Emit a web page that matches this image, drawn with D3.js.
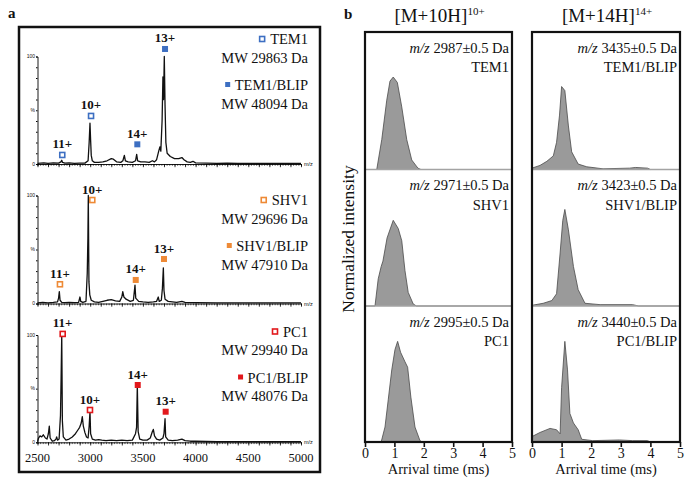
<!DOCTYPE html>
<html><head><meta charset="utf-8">
<script src="https://cdn.jsdelivr.net/npm/d3@7"></script>
<style>
body{margin:0;background:#fff}
svg{display:block}
</style>
</head><body>
<svg id="c" width="697" height="489"></svg>
<script>
// ---------------- DATA ----------------
const mzTicks = [2500, 3000, 3500, 4000, 4500, 5000];
const timeTicks = [0, 1, 2, 3, 4, 5];
const proteins = ["TEM1", "SHV1", "PC1"];
const complexes = ["TEM1/BLIP", "SHV1/BLIP", "PC1/BLIP"];
const freeMW = ["MW 29863 Da", "MW 29696 Da", "MW 29940 Da"];
const complexMW = ["MW 48094 Da", "MW 47910 Da", "MW 48076 Da"];
const colors = ["#3d6fc2", "#ee8a36", "#e2181c"];

// mass spectra: [m/z, relative intensity %]
const specTEM1 = [[2500,0.5],[2560,1],[2600,0.5],[2650,1],[2700,0.8],[2722,2],[2730,3.5],[2738,1.5],[2760,0.8],[2800,1],[2850,0.5],[2900,0.8],[2950,0.8],[2980,3],[2990,20],[2998,38],[3004,22],[3010,8],[3020,3],[3040,1.5],[3080,1.5],[3120,2],[3160,3],[3200,5],[3220,4.5],[3250,2],[3290,1.5],[3310,3],[3324,8],[3334,3],[3360,2],[3400,1.5],[3430,3],[3441,9],[3450,3],[3480,2],[3520,2],[3560,1.5],[3590,3],[3610,2],[3630,4],[3650,12],[3662,16],[3670,12],[3682,40],[3690,81],[3696,60],[3703,100],[3710,55],[3718,20],[3730,10],[3760,7],[3800,5],[3840,5],[3870,6],[3890,4],[3920,2],[3950,1.5],[3975,2.5],[4000,1],[4100,0.8],[4200,0.5],[4300,0.8],[4400,0.5],[4500,0.5],[4600,0.5],[4800,0.5],[5000,0.5]];
const specSHV1 = [[2500,0.5],[2550,1],[2600,0.5],[2650,1],[2690,1.5],[2700,5],[2707,11],[2714,3],[2730,1],[2760,0.8],[2800,1],[2850,0.8],[2890,1],[2903,6],[2910,2],[2930,1],[2960,2],[2972,28],[2978,60],[2982,100],[2988,20],[2996,8],[3010,3],[3040,1.5],[3080,1],[3120,2],[3160,3],[3200,3.5],[3240,2.5],[3280,2],[3300,6],[3309,11],[3320,6],[3340,4],[3380,2],[3410,3],[3425,17],[3432,5],[3460,2],[3500,1.5],[3550,1],[3600,1.5],[3630,2],[3646,6],[3655,2],[3675,3],[3685,14],[3694,33],[3700,12],[3710,4],[3740,2],[3780,1.5],[3820,1],[3870,2],[3900,1],[4000,0.8],[4200,0.5],[4500,0.5],[5000,0.5]];
const specPC1 = [[2500,0.5],[2510,4],[2524,6],[2540,5],[2555,7],[2575,4],[2590,3],[2603,8],[2612,15],[2620,4],[2640,1],[2660,1.5],[2675,3],[2682,5],[2690,2],[2705,3],[2718,25],[2724,60],[2730,100],[2736,20],[2745,5],[2770,2],[2800,3],[2830,5],[2860,8],[2880,11],[2900,14],[2915,18],[2925,24],[2935,15],[2950,9],[2965,5],[2980,4],[2990,15],[2998,29],[3004,8],[3020,3],[3050,2],[3080,2.5],[3110,2],[3150,1.5],[3200,2],[3250,1.5],[3300,2],[3350,1.5],[3400,2],[3430,8],[3440,14],[3447,53],[3455,10],[3470,3],[3500,2],[3540,2],[3570,4],[3590,10],[3599,12],[3610,6],[3630,3],[3660,2],[3690,4],[3700,8],[3710,22],[3716,5],[3740,2],[3780,1.5],[3830,2],[3870,3],[3900,1.5],[3950,1],[4000,1],[4200,0.5],[4500,0.5],[5000,0.5]];

// charge state markers: label, m/z, marker height (%), filled = complex
const ionsTEM1 = [{label:"11+",mz:2735,y:8.4,filled:false},{label:"10+",mz:3008,y:44.7,filled:false},{label:"14+",mz:3447,y:18.3,filled:true},{label:"13+",mz:3710,y:107,filled:true}];
const ionsSHV1 = [{label:"11+",mz:2713,y:17.8,filled:false},{label:"10+",mz:3020,y:95.8,filled:false},{label:"14+",mz:3432,y:21.8,filled:true},{label:"13+",mz:3700,y:41.2,filled:true}];
const ionsPC1  = [{label:"11+",mz:2739,y:101,filled:false},{label:"10+",mz:2998,y:30.1,filled:false},{label:"14+",mz:3451,y:53.4,filled:true},{label:"13+",mz:3716,y:28.5,filled:true}];

// arrival time distributions: [time ms, normalized intensity]
const atdTEM1 = [[0,0],[0.4,0],[0.57,0.22],[0.74,0.51],[0.85,0.65],[0.96,0.68],[1.1,0.64],[1.25,0.46],[1.42,0.22],[1.59,0.07],[1.8,0.01],[1.9,0],[5,0]];
const atdSHV1 = [[0,0],[0.34,0],[0.45,0.2],[0.55,0.29],[0.61,0.33],[0.75,0.5],[0.96,0.63],[1.13,0.57],[1.25,0.48],[1.36,0.26],[1.47,0.1],[1.64,0.015],[1.75,0],[5,0]];
const atdPC1  = [[0,0],[0.55,0],[0.68,0.11],[0.79,0.31],[0.91,0.53],[1.02,0.68],[1.11,0.74],[1.21,0.66],[1.36,0.59],[1.45,0.55],[1.56,0.33],[1.7,0.11],[1.87,0.01],[1.95,0],[5,0]];
const atdTEM1BLIP = [[0,0.01],[0.27,0.03],[0.5,0.06],[0.72,0.1],[0.83,0.2],[0.93,0.4],[1.0,0.61],[1.11,0.58],[1.23,0.32],[1.34,0.13],[1.56,0.04],[1.85,0.02],[2.4,0.005],[3.3,0.01],[3.5,0.015],[3.9,0.01],[4.0,0],[5,0]];
const atdSHV1BLIP = [[0,0.005],[0.38,0.02],[0.67,0.04],[0.83,0.09],[0.95,0.39],[1.04,0.63],[1.11,0.71],[1.23,0.56],[1.4,0.29],[1.56,0.12],[1.79,0.02],[2.3,0.01],[3.4,0.01],[3.6,0],[5,0]];
const atdPC1BLIP  = [[0,0.04],[0.27,0.07],[0.61,0.1],[0.83,0.09],[0.95,0.06],[1.0,0.4],[1.11,0.74],[1.2,0.53],[1.28,0.21],[1.4,0.14],[1.56,0.09],[1.68,0.02],[2.05,0.01],[2.95,0.015],[3.4,0.01],[3.9,0.01],[4.0,0],[5,0]];
const atdFreeMz = ["2987", "2971", "2995"];
const atdComplexMz = ["3435", "3423", "3440"];
const columnTitles = [{base:"[M+10H]", sup:"10+"}, {base:"[M+14H]", sup:"14+"}];

// ---------------- DRAW ----------------
const svg = d3.select("#c");
const serif = '"Liberation Serif","Times New Roman",serif';
const sans = '"Liberation Sans",Arial,sans-serif';
function txt(sel, x, y, size, str, anchor, extra) {
  const t = sel.append("text").attr("x", x).attr("y", y).attr("font-size", size)
    .attr("font-family", serif).attr("fill", "#111").attr("text-anchor", anchor || "start");
  if (extra && extra.bold) t.attr("font-weight", "bold");
  if (extra && extra.family) t.attr("font-family", extra.family);
  if (str !== null) t.text(str);
  return t;
}

// Panel labels
txt(svg, 8, 18, 15, "a", "start", {bold:true});
txt(svg, 344, 19, 15, "b", "start", {bold:true});

// ===== Panel a =====
svg.append("rect").attr("x", 19).attr("y", 27).attr("width", 301).attr("height", 445)
  .attr("fill", "none").attr("stroke", "#111").attr("stroke-width", 2.5);

const xMz = d3.scaleLinear().domain([2500, 5000]).range([37.5, 301]);
const spectra = [specTEM1, specSHV1, specPC1];
const ions = [ionsTEM1, ionsSHV1, ionsPC1];
const rowsA = [{base:164, top:56.5}, {base:303.5, top:195.5}, {base:442.3, top:335}];
const legendY = [44, 205, 336.5];

rowsA.forEach((r, i) => {
  const y = d3.scaleLinear().domain([0, 100]).range([r.base, r.top]);
  const g = svg.append("g");
  // y axis
  const yAx = g.append("g").attr("transform", `translate(${xMz.range()[0]},0)`)
    .call(d3.axisLeft(y).tickValues(d3.range(0, 101, 10)).tickSize(1.5).tickFormat(""));
  yAx.select(".domain").attr("stroke-width", 0.9);
  txt(g, 35, y(100) + 1.5, 5, "100", "end", {family: sans});
  txt(g, 35, y(50) + 1.5, 5, "%", "end", {family: sans});
  txt(g, 35, y(0) + 1.5, 5, "0", "end", {family: sans});
  // x axis: minor + major ticks
  const xa1 = g.append("g").attr("transform", `translate(0,${r.base})`)
    .call(d3.axisBottom(xMz).tickValues(d3.range(2500, 5001, 25)).tickSize(1.8).tickFormat(""));
  xa1.select(".domain").attr("stroke-width", 0.9);
  xa1.selectAll(".tick line").attr("stroke-width", 0.6);
  const xa2 = g.append("g").attr("transform", `translate(0,${r.base})`)
    .call(d3.axisBottom(xMz).tickValues(d3.range(2500, 5001, 100)).tickSize(3.2).tickFormat(""));
  xa2.select(".domain").remove();
  xa2.selectAll(".tick line").attr("stroke-width", 0.8);
  txt(g, 304, r.base + 2, 5.5, "m/z", "start", {family: sans});
  if (i === 2) {
    mzTicks.forEach(d => txt(g, xMz(d), 462, 12.5, String(d), "middle"));
  }
  // spectrum
  g.append("path").datum(spectra[i])
    .attr("d", d3.line().x(d => xMz(d[0])).y(d => y(d[1])))
    .attr("fill", "none").attr("stroke", "#111").attr("stroke-width", 1.3).attr("stroke-linejoin", "round");
  // markers
  ions[i].forEach(o => {
    const cx = xMz(o.mz), cy = y(o.y);
    if (o.filled) {
      g.append("rect").attr("x", cx - 3).attr("y", cy - 3).attr("width", 6).attr("height", 6).attr("fill", colors[i]);
    } else {
      g.append("rect").attr("x", cx - 2.5).attr("y", cy - 2.5).attr("width", 5).attr("height", 5)
        .attr("fill", "#fff").attr("stroke", colors[i]).attr("stroke-width", 1.6);
    }
    txt(g, cx, cy - 6.5, 13, o.label, "middle", {bold:true});
  });
  // legend
  const lx = 308, ly = legendY[i];
  const t1 = txt(g, lx, ly, 14.5, proteins[i], "end");
  txt(g, lx, ly + 18.5, 14.5, freeMW[i], "end");
  const t3 = txt(g, lx, ly + 46, 14.5, complexes[i], "end");
  txt(g, lx, ly + 64.5, 14.5, complexMW[i], "end");
  const w1 = t1.node().getComputedTextLength();
  const w3 = t3.node().getComputedTextLength();
  g.append("rect").attr("x", lx - w1 - 10.5).attr("y", ly - 7.5).attr("width", 5).attr("height", 5)
    .attr("fill", "#fff").attr("stroke", colors[i]).attr("stroke-width", 1.6);
  g.append("rect").attr("x", lx - w3 - 9.5).attr("y", ly + 46 - 8).attr("width", 5).attr("height", 5).attr("fill", colors[i]);
});

// ===== Panel b =====
const cols = [{left:365, right:512}, {left:532, right:680}];
const rowsB = [{top:32, base:169.5}, {top:169.5, base:306}, {top:306, base:442}];
const atds = [[atdTEM1, atdSHV1, atdPC1], [atdTEM1BLIP, atdSHV1BLIP, atdPC1BLIP]];
const mzLabels = [atdFreeMz, atdComplexMz];
const names = [proteins, complexes];

cols.forEach((c, ci) => {
  const x = d3.scaleLinear().domain([0, 5]).range([c.left, c.right]);
  const g = svg.append("g");
  rowsB.forEach((r, ri) => {
    const y = d3.scaleLinear().domain([0, 1]).range([r.base, r.base - 136]);
    g.append("path").datum(atds[ci][ri])
      .attr("d", d3.area().x(d => x(d[0])).y0(r.base).y1(d => y(d[1])))
      .attr("fill", "#9a9a9a").attr("stroke", "none");
    g.append("path").datum(atds[ci][ri])
      .attr("d", d3.line().x(d => x(d[0])).y(d => y(d[1])))
      .attr("fill", "none").attr("stroke", "#4a4a4a").attr("stroke-width", 0.8);
    if (ri < 2) {
      g.append("line").attr("x1", c.left).attr("x2", c.right).attr("y1", r.base).attr("y2", r.base)
        .attr("stroke", "#a3a3a3").attr("stroke-width", 1.6);
    }
    const tx = c.right - 3;
    const t = txt(g, tx, r.top + 20.5, 14.5, null, "end");
    t.append("tspan").attr("font-style", "italic").text("m/z");
    t.append("tspan").text(" " + mzLabels[ci][ri] + "±0.5 Da");
    txt(g, tx, r.top + 40, 14.5, names[ci][ri], "end");
  });
  // frame
  g.append("rect").attr("x", c.left).attr("y", rowsB[0].top).attr("width", c.right - c.left).attr("height", rowsB[2].base - rowsB[0].top)
    .attr("fill", "none").attr("stroke", "#111").attr("stroke-width", 2.2);
  // axis
  const ax = g.append("g").attr("transform", `translate(0,${rowsB[2].base})`)
    .attr("font-size", 14).attr("font-family", serif)
    .call(d3.axisBottom(x).tickValues(timeTicks).tickSize(5).tickPadding(1.5).tickFormat(d3.format("d")));
  ax.attr("font-size", 14).attr("font-family", serif);
  ax.select(".domain").remove();
  ax.selectAll(".tick line").attr("stroke", "#111").attr("stroke-width", 1.6);
  ax.selectAll(".tick text").attr("font-size", 14).attr("font-family", serif).attr("fill", "#111");
  txt(g, (c.left + c.right) / 2, 473.5, 14.5, "Arrival time (ms)", "middle");
  // column title
  const tt = txt(g, (c.left + c.right) / 2 + 1, 22, 19, null, "middle");
  tt.append("tspan").text(columnTitles[ci].base);
  tt.append("tspan").attr("font-size", 11).attr("dy", -7).text(columnTitles[ci].sup);
});

txt(svg, 0, 0, 17.5, "Normalized intensity", "middle").attr("transform", "translate(354,239) rotate(-90)");
</script>
</body></html>
